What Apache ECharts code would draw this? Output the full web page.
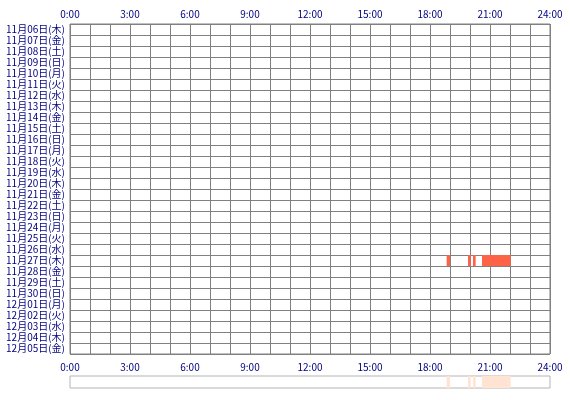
<!DOCTYPE html>
<html><head><meta charset="utf-8">
<script src="https://cdn.jsdelivr.net/npm/echarts@6/dist/echarts.min.js"></script>
<style>html,body{margin:0;padding:0;background:#fff}#c{width:570px;height:400px}</style>
</head><body><div id="c"></div>
<script>
var days = ['11月06日(木)','11月07日(金)','11月08日(土)','11月09日(日)','11月10日(月)','11月11日(火)','11月12日(水)','11月13日(木)','11月14日(金)','11月15日(土)','11月16日(日)','11月17日(月)','11月18日(火)','11月19日(水)','11月20日(木)','11月21日(金)','11月22日(土)','11月23日(日)','11月24日(月)','11月25日(火)','11月26日(水)','11月27日(木)','11月28日(金)','11月29日(土)','11月30日(日)','12月01日(月)','12月02日(火)','12月03日(水)','12月04日(木)','12月05日(金)'];
var hourTicks = [0,3,6,9,12,15,18,21,24];
var sessionDay = ['11月27日(木)','11月27日(木)','11月27日(木)','11月27日(木)'];
var sessionStart = ['18:50','19:54','20:09','20:36'];
var sessionEnd = ['19:00','20:02','20:17','22:02'];

function toH(s){var p=s.split(':');return +p[0]+(+p[1])/60;}
var mainData = sessionDay.map(function(d,i){return [toH(sessionStart[i]),toH(sessionEnd[i]),d];});
var miniData = sessionDay.map(function(d,i){return [toH(sessionStart[i]),toH(sessionEnd[i]),'all'];});

var labelStyle = {color:'#000080',fontSize:10,fontFamily:'"Noto Sans CJK JP", sans-serif'};
function xFmt(v){return hourTicks.indexOf(v)>=0 ? v+':00' : '';}

function render(params, api){
  var s = api.coord([api.value(0), api.value(2)]);
  var e = api.coord([api.value(1), api.value(2)]);
  var h = api.size([0,1])[1];
  var r = echarts.graphic.clipRectByRect({x:s[0],y:s[1]-h/2,width:e[0]-s[0],height:h},
    {x:params.coordSys.x,y:params.coordSys.y,width:params.coordSys.width,height:params.coordSys.height});
  return r && {type:'rect',shape:r,style:{fill:api.visual('color')}};
}

var chart = echarts.init(document.getElementById('c'),null,{renderer:'canvas'});
chart.setOption({
  animation:false,
  grid:[
    {left:70,top:24,width:480,height:330,show:true,borderColor:'#808080',borderWidth:1,backgroundColor:'transparent'},
    {left:70,top:376,width:480,height:12,show:true,borderColor:'#b4b4b4',borderWidth:1}
  ],
  xAxis:[
    {gridIndex:0,type:'value',min:0,max:24,interval:1,position:'bottom',
     axisLine:{show:false},axisTick:{show:false},
     axisLabel:Object.assign({formatter:xFmt,margin:8,showMinLabel:true,showMaxLabel:true},labelStyle),
     splitLine:{show:true,lineStyle:{color:'#808080',width:1}}},
    {gridIndex:0,type:'value',min:0,max:24,interval:1,position:'top',
     axisLine:{show:false},axisTick:{show:false},
     axisLabel:Object.assign({formatter:xFmt,margin:5,showMinLabel:true,showMaxLabel:true},labelStyle),
     splitLine:{show:false}},
    {gridIndex:1,type:'value',min:0,max:24,show:false}
  ],
  yAxis:[
    {gridIndex:0,type:'category',data:days,inverse:true,
     axisLine:{show:false},axisTick:{show:false},
     axisLabel:Object.assign({margin:5,interval:0},labelStyle,{fontSize:10}),
     splitLine:{show:true,interval:0,lineStyle:{color:'#808080',width:1}}},
    {gridIndex:1,type:'category',data:['all'],show:false}
  ],
  series:[
    {type:'custom',xAxisIndex:0,yAxisIndex:0,renderItem:render,itemStyle:{color:'#ff6347'},
     encode:{x:[0,1],y:2},data:mainData},
    {type:'custom',xAxisIndex:2,yAxisIndex:1,renderItem:render,itemStyle:{color:'#ffe4d4'},
     encode:{x:[0,1],y:2},data:miniData}
  ]
});
</script></body></html>
